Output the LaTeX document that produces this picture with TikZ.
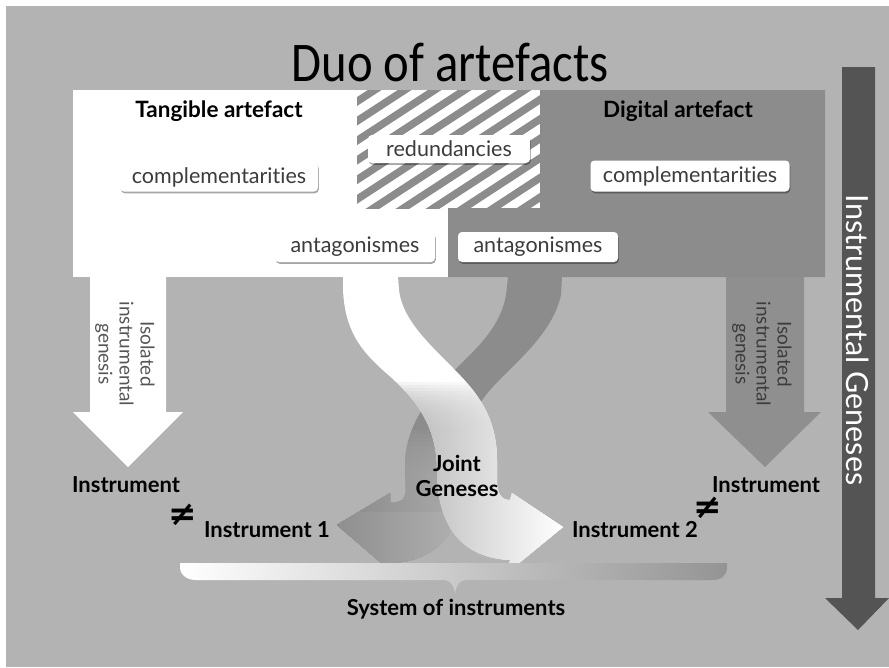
\documentclass[tikz,border=0pt]{standalone}
\usepackage{fontspec}
\setmainfont{Lato}[Ligatures=NoCommon]
\newfontfamily\titlefont{Carlito}
\newfontfamily\symfont{DejaVu Sans}
\usetikzlibrary{shadows}
\definecolor{bggray}{HTML}{B3B3B3}
\definecolor{diggray}{HTML}{8C8C8C}
\definecolor{darkarrow}{HTML}{545454}
\definecolor{isogray}{HTML}{8F8F8F}
\definecolor{labtext}{HTML}{3C3C3C}
\definecolor{isotext}{HTML}{555555}
\begin{document}
\begin{tikzpicture}[x=1pt,y=-1pt,
  lbl/.style={fill=white, rounded corners=4pt, inner sep=0pt, text=labtext,
    font=\fontsize{21.5}{24}\selectfont,
    drop shadow={shadow xshift=0.8pt, shadow yshift=-1.8pt, opacity=0.35, fill=black}},
  heading/.style={font=\bfseries\fontsize{22.5}{25}\selectfont, text=black, inner sep=0pt},
  inst/.style={font=\bfseries\fontsize{22}{25}\selectfont, text=black, inner sep=0pt},
  neq/.style={font=\symfont\bfseries\fontsize{34}{34}\selectfont, text=black, inner sep=0pt},
  isolbl/.style={font=\fontsize{19}{21}\selectfont, align=center, rotate=-90, inner sep=0pt},
  grayshade/.style={left color=black!44, right color=black!20},
  whiteshade/.style={left color=black!38, right color=white}
]
\useasboundingbox (0,0) rectangle (889,667);
\fill[white] (0,0) rectangle (889,667);
\fill[bggray] (6,6) rectangle (889,667);

% title
\node[font=\titlefont\fontsize{56}{60}\selectfont, anchor=base, inner sep=0pt, xscale=0.87] (title) at (450,81) {Duo of artefacts};

% artefact areas
\fill[white] (73,90) rectangle (540,277);
\fill[diggray] (540,90) -- (825,90) -- (825,277) -- (448,277) -- (448,208) -- (540,208) -- cycle;
\begin{scope}
  \clip (357,90) rectangle (540,208);
  \foreach \x in {130,160,...,560}
    \draw[diggray, line width=7.5pt] (\x,230) -- ++(230,-150);
\end{scope}

\node[heading, anchor=base] (tang) at (219,117) {Tangible artefact};
\node[heading, anchor=base] (digi) at (678,117) {Digital artefact};

\node[lbl, minimum width=198pt, minimum height=29pt] (compL) at (219,177) {complementarities};
\node[lbl, minimum width=162pt, minimum height=28pt] (redund) at (449,149) {redundancies};
\node[lbl, minimum width=199pt, minimum height=31pt] (compR) at (690,176) {complementarities};

% big instrumental geneses arrow
\fill[darkarrow] (842,67) -- (875,67) -- (875,598) -- (889,598) -- (858,630) -- (825,598) -- (842,598) -- cycle;
\node[font=\fontsize{30.5}{32}\selectfont, text=white, rotate=-90, inner sep=0pt] (ig) at (858,340) {Instrumental Geneses};

% isolated arrows
\fill[white] (90,277) -- (166,277) -- (166,412) -- (183,412) -- (128,467) -- (73,412) -- (90,412) -- cycle;
\fill[isogray] (726,277) -- (804,277) -- (804,412) -- (821,412) -- (765,467) -- (708,412) -- (726,412) -- cycle;
\node[isolbl, text=isotext] (isoL) at (125,354) {Isolated\\instrumental\\genesis};
\node[isolbl, text=labtext] (isoR) at (762,354) {Isolated\\instrumental\\genesis};

% twisted bands: gray band (under)
\def\grayband{(508,277) -- (562,277) -- (561,295)
  .. controls (552,335) and (515,362) .. (490,390)
  .. controls (470,413) and (462,440) .. (462,480)
  .. controls (462,530) and (440,560) .. (392,563)
  -- (392,572) -- (337,525) -- (390,493) -- (390,503)
  .. controls (400,503) and (406,500) .. (406,490)
  -- (405,465)
  .. controls (405,430) and (425,400) .. (450,375)
  .. controls (472,352) and (500,330) .. (506,295) -- cycle}
\fill[diggray] \grayband;
\foreach \i in {0,...,19}{
  \begin{scope}
    \clip (300,{430+4*\i}) rectangle (600,600);
    \shade[opacity=0.15, grayshade] \grayband;
  \end{scope}
}
\begin{scope}
  \clip (300,512) rectangle (600,600);
  \shade[grayshade] \grayband;
\end{scope}

% white band (over)
\def\whiteband{(343,277) -- (398,277) -- (399,290)
  .. controls (402,315) and (420,335) .. (445,360)
  .. controls (470,385) and (497,410) .. (497,460)
  -- (497,480) .. controls (497,495) and (502,500) .. (510,500)
  -- (512,493) -- (563,527) -- (507,573) -- (510,560)
  .. controls (465,558) and (437,530) .. (437,470)
  .. controls (437,425) and (415,398) .. (385,372)
  .. controls (360,350) and (345,330) .. (343,290) -- cycle}
\fill[white] \whiteband;
\foreach \i in {0,...,19}{
  \begin{scope}
    \clip (300,{382+3*\i}) rectangle (600,600);
    \shade[opacity=0.15, whiteshade] \whiteband;
  \end{scope}
}
\begin{scope}
  \clip (300,444) rectangle (600,600);
  \shade[whiteshade] \whiteband;
\end{scope}

\node[lbl, minimum width=160pt, minimum height=30pt] (antL) at (355,247) {antagonismes};
\node[lbl, minimum width=160pt, minimum height=30pt] (antR) at (538,247) {antagonismes};

\node[font=\bfseries\fontsize{22}{25}\selectfont, align=center, inner sep=0pt] (joint) at (457,476) {Joint\\Geneses};

% instruments
\node[inst, anchor=base] (instL) at (126,492) {Instrument};
\node[inst, anchor=base] (instR) at (766,492) {Instrument};
\node[inst, anchor=base] (inst1) at (267,537) {Instrument 1};
\node[inst, anchor=base] (inst2) at (635,537) {Instrument 2};
\node[neq] (neqL) at (183,515) {≠};
\node[neq] (neqR) at (708,508) {≠};

% brace bar
\shade[left color=white, right color=black!42]
  (180,563) -- (727,563) -- (727,567) .. controls (727,576) and (721,580) .. (712,580)
  -- (466,580) .. controls (459,580) and (456,586) .. (455,594)
  .. controls (454,586) and (451,580) .. (444,580)
  -- (196,580) .. controls (187,580) and (180,575) .. (180,567) -- cycle;
\node[inst, anchor=base] (sys) at (456,615) {System of instruments};
\end{tikzpicture}
\end{document}
